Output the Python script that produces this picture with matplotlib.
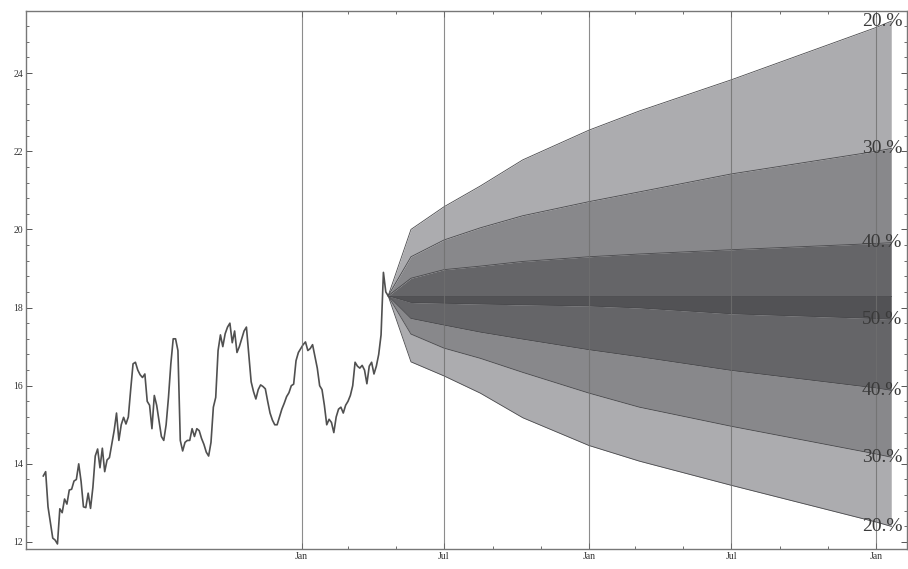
import matplotlib
matplotlib.use('Agg')
import matplotlib.pyplot as plt
import matplotlib.dates as mdates
from matplotlib.ticker import MultipleLocator, FixedLocator, NullFormatter
import pandas as pd

# history: one reading every 3 days, starting 2009-02-07
hist_start = '2009-02-07'
hist_values = [
    13.69, 13.8, 12.9, 12.5, 12.1, 12.05, 11.95, 12.85, 12.75, 13.1,
    12.97, 13.33, 13.35, 13.56, 13.6, 14.0, 13.55, 12.9, 12.88, 13.25,
    12.86, 13.4, 14.2, 14.38, 13.9, 14.4, 13.8, 14.1, 14.16, 14.5,
    14.85, 15.3, 14.6, 15.0, 15.19, 15.02, 15.2, 15.9, 16.56, 16.6,
    16.4, 16.28, 16.21, 16.3, 15.6, 15.5, 14.9, 15.75, 15.5, 15.1,
    14.7, 14.6, 15.0, 15.7, 16.56, 17.2, 17.2, 16.9, 14.6, 14.33,
    14.55, 14.6, 14.6, 14.9, 14.7, 14.9, 14.85, 14.65, 14.5, 14.3,
    14.2, 14.55, 15.45, 15.7, 16.9, 17.3, 17.0, 17.33, 17.5, 17.6,
    17.1, 17.4, 16.85, 17.0, 17.2, 17.4, 17.5, 16.8, 16.1, 15.85,
    15.66, 15.9, 16.02, 15.98, 15.92, 15.6, 15.3, 15.12, 15.0, 15.0,
    15.2, 15.4, 15.55, 15.72, 15.82, 16.0, 16.04, 16.64, 16.85, 16.95,
    17.05, 17.12, 16.9, 16.95, 17.05, 16.75, 16.45, 16.0, 15.9, 15.5,
    15.0, 15.14, 15.06, 14.8, 15.2, 15.4, 15.45, 15.3, 15.5, 15.6,
    15.75, 16.0, 16.6, 16.5, 16.45, 16.52, 16.4, 16.05, 16.5, 16.6,
    16.3, 16.5, 16.8, 17.3, 18.9, 18.4, 18.3,
]

# forecast fan
fan_dates = ['2010-04-21', '2010-05-20', '2010-07-01', '2010-08-16', '2010-10-09',
             '2011-01-01', '2011-03-06', '2011-07-01', '2012-01-01', '2012-01-20']
fan_base = [18.3] * 10
fan_upper20 = [18.3, 20.0, 20.58, 21.11, 21.78, 22.54, 23.03, 23.83, 25.17, 25.33]
fan_upper30 = [18.3, 19.30, 19.73, 20.04, 20.35, 20.71, 20.96, 21.42, 22.0, 22.07]
fan_upper40 = [18.3, 18.75, 18.97, 19.06, 19.18, 19.30, 19.37, 19.48, 19.64, 19.66]
fan_median = [18.3, 18.13, 18.11, 18.09, 18.07, 18.04, 17.99, 17.84, 17.72, 17.70]
fan_lower40 = [18.3, 17.72, 17.55, 17.37, 17.19, 16.92, 16.74, 16.39, 15.94, 15.88]
fan_lower30 = [18.3, 17.32, 16.96, 16.70, 16.34, 15.81, 15.45, 14.96, 14.25, 14.17]
fan_lower20 = [18.3, 16.61, 16.25, 15.81, 15.18, 14.47, 14.07, 13.45, 12.51, 12.40]
fan_labels = ['20.%', '30.%', '40.%', '50.%', '40.%', '30.%', '20.%']

grid_dates = ['2010-01-01', '2010-07-01', '2011-01-01', '2011-07-01', '2012-01-01']
minor_dates = ['2010-03-01', '2010-05-01', '2010-09-01', '2010-11-01',
               '2011-03-01', '2011-05-01', '2011-09-01', '2011-11-01']

hist_dates = pd.date_range(hist_start, periods=len(hist_values), freq='3D')
fd = pd.to_datetime(fan_dates)

plt.rcParams['font.family'] = ['Liberation Serif', 'DejaVu Serif']

fig = plt.figure(figsize=(9.08, 5.69), dpi=100)
ax = fig.add_axes([0.0286, 0.0351, 0.9703, 0.9456])

c1, c2, c3, c4 = '#acacaf', '#88888b', '#656568', '#525255'
bands = [
    (fan_upper20, fan_upper30, c1),
    (fan_upper30, fan_upper40, c2),
    (fan_upper40, fan_base, c3),
    (fan_base, fan_median, c4),
    (fan_median, fan_lower40, c3),
    (fan_lower40, fan_lower30, c2),
    (fan_lower30, fan_lower20, c1),
]
for hi, lo, col in bands:
    ax.fill_between(fd, hi, lo, color=col, lw=0, zorder=1)

curves = [fan_upper20, fan_upper30, fan_upper40, fan_median,
          fan_lower40, fan_lower30, fan_lower20]
for cv in curves:
    ax.plot(fd, cv, color='#4a4a4d', lw=0.6, zorder=2)
ax.plot(fd, fan_base, color='#48484b', lw=0.6, zorder=2)

ax.plot(hist_dates, hist_values, color='#505050', lw=1.2, zorder=3)

for g in pd.to_datetime(grid_dates):
    ax.axvline(g, color='#6f6f6f', lw=0.8, alpha=0.8, zorder=4)

for cv, lab in zip(curves, fan_labels):
    ax.annotate(lab, xy=(fd[-1], cv[-1]), xytext=(-9, 0), textcoords='offset pixels',
                ha='center', va='center', fontsize=14, color='#3a3a3a', zorder=5)

ax.set_xlim(pd.Timestamp('2009-01-16'), pd.Timestamp('2012-02-09'))
ax.set_ylim(11.82, 25.59)

ax.xaxis.set_major_locator(FixedLocator(mdates.date2num(pd.to_datetime(grid_dates))))
ax.xaxis.set_major_formatter(mdates.DateFormatter('%b'))
ax.xaxis.set_minor_locator(FixedLocator(mdates.date2num(pd.to_datetime(minor_dates))))
ax.xaxis.set_minor_formatter(NullFormatter())
ax.yaxis.set_major_locator(MultipleLocator(2))
ax.yaxis.set_minor_locator(MultipleLocator(0.4))

ax.tick_params(which='both', direction='in', top=True, right=True,
               labelsize=7, colors='#555555', labelcolor='#333333', pad=2)
ax.tick_params(which='major', length=4, width=0.7)
ax.tick_params(which='minor', length=2.5, width=0.6)

for s in ax.spines.values():
    s.set_color('#777777')
    s.set_linewidth(1.0)

fig.savefig('out.png', dpi=100)
